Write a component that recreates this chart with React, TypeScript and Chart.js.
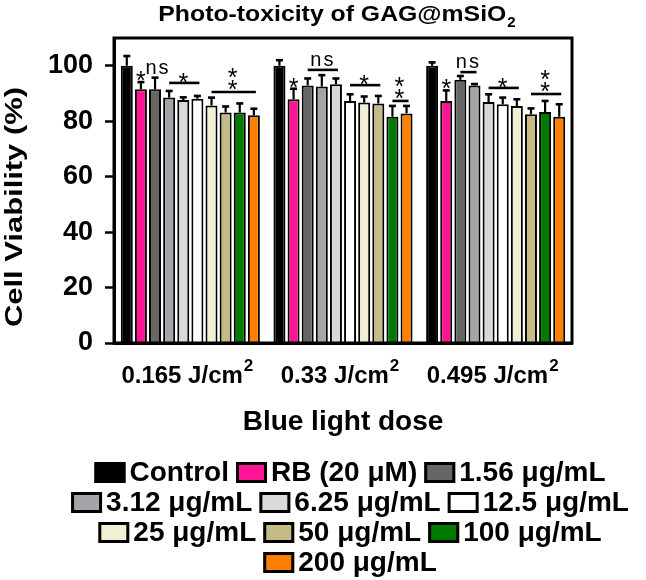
import React, { useEffect, useRef } from "react";
import { Chart, registerables } from "chart.js";

Chart.register(...registerables);

const FF = '"Liberation Sans", Arial, sans-serif';

// Categories (blue light dose, J/cm^2)
const doses = ["0.165", "0.33", "0.495"];

// Series
const seriesLabels = [
  "Control",
  "RB (20 μM)",
  "1.56 μg/mL",
  "3.12 μg/mL",
  "6.25 μg/mL",
  "12.5 μg/mL",
  "25 μg/mL",
  "50 μg/mL",
  "100 μg/mL",
  "200 μg/mL",
];
const seriesColors = [
  "#000000",
  "#FF1493",
  "#666666",
  "#A5A5A9",
  "#D9D9D9",
  "#FFFFFF",
  "#F3EFD5",
  "#C7BB85",
  "#007B00",
  "#FF8000",
];

// Mean cell viability (%) per dose
const control = [100, 100, 100];
const rb = [91.5, 87.9, 87.3];
const c156 = [91.5, 92.9, 94.9];
const c312 = [88.5, 92.5, 92.9];
const c625 = [87.6, 93.3, 86.9];
const c125 = [88.1, 87.3, 86.1];
const c25 = [85.7, 86.7, 85.5];
const c50 = [83.1, 86.4, 82.5];
const c100 = [83.1, 81.6, 83.3];
const c200 = [82.1, 82.8, 81.6];

// Error (SD) per dose
const controlErr = [3.5, 2.0, 1.2];
const rbErr = [2.6, 3.8, 3.8];
const c156Err = [4.2, 2.5, 1.4];
const c312Err = [2.4, 4.1, 0.5];
const c625Err = [1.0, 2.1, 2.8];
const c125Err = [1.0, 2.4, 2.4];
const c25Err = [2.8, 2.2, 2.4];
const c50Err = [2.2, 2.7, 2.1];
const c100Err = [3.3, 3.9, 4.0];
const c200Err = [2.4, 2.7, 4.5];

const yTicks = [0, 20, 40, 60, 80, 100];

// Significance brackets: group index, first bar, last bar, line level (value), label
const sigLines = [
  { group: 0, from: 3, to: 5, y: 93.8, label: "*" },
  { group: 0, from: 6, to: 9, y: 90.5, label: "**" },
  { group: 1, from: 2, to: 4, y: 98.5, label: "ns" },
  { group: 1, from: 5, to: 7, y: 93.0, label: "*" },
  { group: 1, from: 8, to: 9, y: 87.3, label: "**" },
  { group: 2, from: 2, to: 3, y: 97.7, label: "ns" },
  { group: 2, from: 4, to: 6, y: 92.0, label: "*" },
  { group: 2, from: 7, to: 9, y: 89.8, label: "**" },
];
// Single marks above one bar: group, bar, text-centre level (value), label
const sigMarks = [
  { group: 0, bar: 1, y: 96.7, label: "*" },
  { group: 0, bar: 2, y: 98.8, label: "ns" },
  { group: 1, bar: 1, y: 94.1, label: "*" },
  { group: 2, bar: 1, y: 93.8, label: "*" },
];

const legendRows = [[0, 1, 2], [3, 4, 5], [6, 7, 8], [9]];

const seriesValues = [control, rb, c156, c312, c625, c125, c25, c50, c100, c200];
const seriesErrors = [
  controlErr, rbErr, c156Err, c312Err, c625Err, c125Err, c25Err, c50Err, c100Err, c200Err,
];

const STAR = 25;
function drawStar(ctx: CanvasRenderingContext2D, x: number, cy: number) {
  ctx.font = `${STAR}px ${FF}`;
  ctx.textAlign = "center";
  ctx.textBaseline = "alphabetic";
  ctx.fillText("*", x, cy + 0.575 * STAR);
}
function drawNs(ctx: CanvasRenderingContext2D, x: number, cy: number) {
  ctx.font = `20px ${FF}`;
  ctx.textAlign = "center";
  ctx.textBaseline = "alphabetic";
  const anyCtx = ctx as any;
  anyCtx.letterSpacing = "2px";
  ctx.fillText("ns", x + 1, cy + 0.26 * 20);
  anyCtx.letterSpacing = "0px";
}

const overlayPlugin = {
  id: "overlay",
  afterDatasetsDraw(chart: any) {
    const ctx: CanvasRenderingContext2D = chart.ctx;
    const ys = chart.scales.y;
    const ca = chart.chartArea;
    ctx.save();
    ctx.strokeStyle = "#000";
    ctx.fillStyle = "#000";
    // error bars
    chart.data.datasets.forEach((ds: any, i: number) => {
      const meta = chart.getDatasetMeta(i);
      meta.data.forEach((el: any, j: number) => {
        const top = ys.getPixelForValue(ds.data[j] + ds.errors[j]);
        ctx.lineWidth = 2.2;
        ctx.beginPath();
        ctx.moveTo(el.x, el.y);
        ctx.lineTo(el.x, top);
        ctx.stroke();
        ctx.lineWidth = 2.6;
        ctx.beginPath();
        ctx.moveTo(el.x - 3.5, top);
        ctx.lineTo(el.x + 3.5, top);
        ctx.stroke();
      });
    });
    // significance brackets
    const bx = (ds: number, g: number) => chart.getDatasetMeta(ds).data[g].x;
    sigLines.forEach((s) => {
      const x1 = bx(s.from, s.group);
      const x2 = bx(s.to, s.group);
      const yy = ys.getPixelForValue(s.y);
      ctx.lineWidth = 2.6;
      ctx.beginPath();
      ctx.moveTo(x1, yy);
      ctx.lineTo(x2 + 2, yy);
      ctx.stroke();
      const cx = (x1 + x2) / 2;
      if (s.label === "*") drawStar(ctx, cx, yy - 6.5);
      else if (s.label === "**") {
        drawStar(ctx, cx, yy - 8);
        drawStar(ctx, cx, yy - 20);
      } else drawNs(ctx, cx, yy - 9);
    });
    sigMarks.forEach((s) => {
      const x = bx(s.bar, s.group);
      const yy = ys.getPixelForValue(s.y);
      if (s.label === "*") drawStar(ctx, x, yy);
      else drawNs(ctx, x + 2, yy);
    });
    // frame
    ctx.lineWidth = 3;
    ctx.strokeRect(ca.left, ca.top, ca.right - ca.left, ca.bottom - ca.top);
    ctx.restore();
  },
  afterDraw(chart: any) {
    const ctx: CanvasRenderingContext2D = chart.ctx;
    const ca = chart.chartArea;
    const xs = chart.scales.x;
    ctx.save();
    ctx.fillStyle = "#000";
    ctx.textBaseline = "alphabetic";
    ctx.textAlign = "left";

    // Title with subscript
    const tMain = "Photo-toxicity of GAG@mSiO";
    ctx.font = `bold 22px ${FF}`;
    const wMain = ctx.measureText(tMain).width;
    const targetMain = 348;
    ctx.font = `bold 15px ${FF}`;
    const wSub = ctx.measureText("2").width;
    const total = targetMain + 1 + wSub;
    const tcx = (ca.left + ca.right) / 2 - 6;
    const tx0 = tcx - total / 2;
    ctx.save();
    ctx.translate(tx0, 21);
    ctx.scale(targetMain / wMain, 1);
    ctx.font = `bold 22px ${FF}`;
    ctx.fillText(tMain, 0, 0);
    ctx.restore();
    ctx.font = `bold 15px ${FF}`;
    ctx.fillText("2", tx0 + targetMain + 1, 27);

    // Y axis title (rotated)
    const yt = "Cell Viability (%)";
    ctx.font = `bold 23px ${FF}`;
    const wy = ctx.measureText(yt).width;
    ctx.save();
    ctx.translate(22, 207);
    ctx.rotate(-Math.PI / 2);
    ctx.scale(240 / wy, 1);
    ctx.textAlign = "center";
    ctx.fillText(yt, 0, 0);
    ctx.restore();

    // X tick labels with superscript
    doses.forEach((d, i) => {
      const cx = xs.getPixelForValue(i) - 3;
      const main = `${d} J/cm`;
      ctx.font = `bold 24px ${FF}`;
      const wm = ctx.measureText(main).width;
      ctx.font = `bold 17px ${FF}`;
      const ws = ctx.measureText("2").width;
      const x0 = cx - (wm + 1 + ws) / 2;
      ctx.textAlign = "left";
      ctx.font = `bold 24px ${FF}`;
      ctx.fillText(main, x0, 383);
      ctx.font = `bold 17px ${FF}`;
      ctx.fillText("2", x0 + wm + 1, 371);
    });

    // X axis title
    ctx.font = `bold 28px ${FF}`;
    ctx.textAlign = "center";
    ctx.fillText("Blue light dose", (ca.left + ca.right) / 2, 430);

    // Legend
    const boxW = 31;
    const boxH = 21;
    const gapBT = 4;
    const gapItem = 7;
    const rowTop0 = 462;
    const rowStep = 30;
    const lcx = 350;
    ctx.font = `bold 28px ${FF}`;
    ctx.textAlign = "left";
    legendRows.forEach((row, r) => {
      const widths = row.map((k) => ctx.measureText(chart.data.datasets[k].label).width);
      const rowW =
        widths.reduce((a, b) => a + b, 0) + row.length * (boxW + gapBT) + (row.length - 1) * gapItem;
      let x = lcx - rowW / 2;
      const top = rowTop0 + r * rowStep;
      row.forEach((k, n) => {
        const ds = chart.data.datasets[k];
        ctx.fillStyle = ds.backgroundColor;
        ctx.fillRect(x, top, boxW, boxH);
        ctx.strokeStyle = "#000";
        ctx.lineWidth = 3;
        ctx.strokeRect(x + 1.5, top + 1.5, boxW - 3, boxH - 3);
        ctx.fillStyle = "#000";
        ctx.fillText(ds.label, x + boxW + gapBT, top + boxH - 2);
        x += boxW + gapBT + widths[n] + gapItem;
      });
    });
    ctx.restore();
  },
};

export default function App() {
  const ref = useRef<HTMLCanvasElement | null>(null);
  useEffect(() => {
    if (!ref.current) return;
    const datasets = seriesLabels.map((label, i) => ({
      label,
      data: seriesValues[i],
      errors: seriesErrors[i],
      backgroundColor: seriesColors[i],
      borderColor: "#000000",
      borderWidth: 2,
      categoryPercentage: 0.925,
      barPercentage: 0.85,
    }));
    const chart = new Chart(ref.current, {
      type: "bar",
      data: { labels: doses, datasets: datasets as any },
      plugins: [overlayPlugin as any],
      options: {
        animation: false,
        responsive: false,
        devicePixelRatio: 1,
        layout: { padding: { top: 38, right: 74, left: 0, bottom: 0 } },
        plugins: {
          legend: { display: false },
          title: { display: false },
          tooltip: { enabled: false },
        },
        scales: {
          x: {
            type: "category",
            grid: { display: false },
            border: { display: true, color: "#000", width: 3 },
            ticks: { display: false },
            afterFit: (s: any) => {
              s.height = 237;
            },
          },
          y: {
            min: 0,
            max: 110,
            grid: {
              display: true,
              drawOnChartArea: false,
              drawTicks: true,
              tickLength: 9,
              tickColor: "#000",
              tickWidth: 2.5,
            },
            border: { display: true, color: "#000", width: 3 },
            afterBuildTicks: (s: any) => {
              s.ticks = yTicks.map((v) => ({ value: v }));
            },
            ticks: {
              color: "#000",
              padding: 12,
              font: { family: FF, size: 27, weight: "bold" },
            },
            afterFit: (s: any) => {
              s.width = 114;
            },
          },
        },
      } as any,
    });
    return () => chart.destroy();
  }, []);
  return (
    <div style={{ position: "fixed", left: 0, top: 0, width: 646, height: 580, background: "#fff" }}>
      <canvas ref={ref} width={646} height={580} style={{ display: "block" }} />
    </div>
  );
}
